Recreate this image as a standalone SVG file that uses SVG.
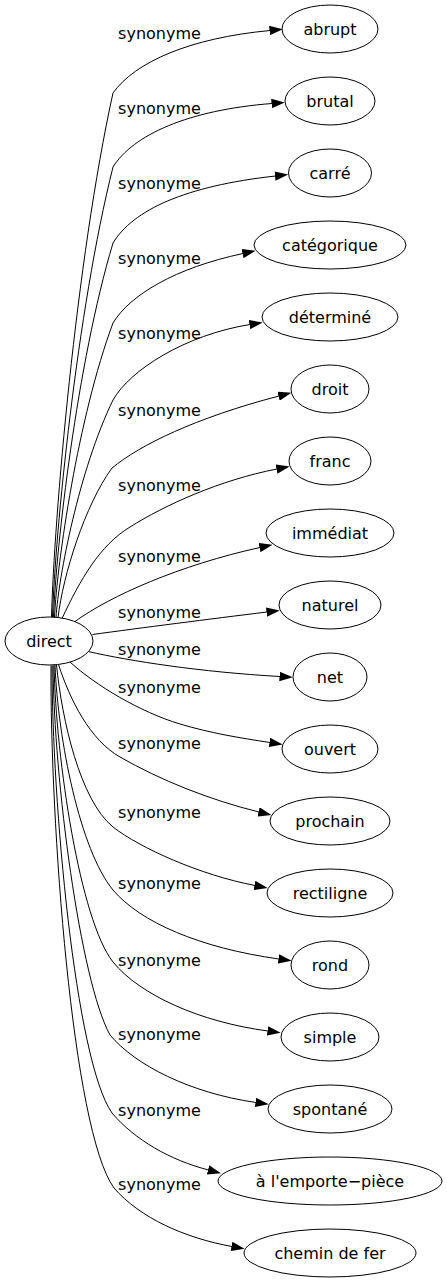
<svg xmlns="http://www.w3.org/2000/svg" width="447" height="1283" viewBox="0 0 447 1283">
<style>
.bg{fill:#ffffff}
.node ellipse{fill:none;stroke:#000;stroke-width:1}
.node text{font-family:"DejaVu Sans",Verdana,sans-serif;font-size:16px;fill:#000;text-anchor:middle}
.edges path{fill:none;stroke:#000;stroke-width:1}
.lbl{font-family:"DejaVu Sans",Verdana,sans-serif;font-size:16px;fill:#000;text-anchor:middle}
</style>
<defs>
<marker id="arr" viewBox="0 0 13.3 9.4" refX="0.5" refY="4.7" markerWidth="13.3" markerHeight="9.4" markerUnits="userSpaceOnUse" orient="auto">
<path d="M0,0 L13.3,4.7 L0,9.4 Z" fill="#000" stroke="none"/>
</marker>
</defs>
<rect class="bg" x="0" y="0" width="447" height="1283"/>
<g id="connectors" class="edges">
<path marker-end="url(#arr)" d="M51.5,617 C54,520 76,261 113,93 C135,62 190,38 270,30.5"/>
<path marker-end="url(#arr)" d="M52.5,617 C55,534 77,311 113,167 C133,135 188,110 272,103.5"/>
<path marker-end="url(#arr)" d="M53.5,617 C56,548 77,363 113,243 C133,210 185,186 275.5,176"/>
<path marker-end="url(#arr)" d="M54.5,617.3 C57,563 78,417 113,323 C130,295 175,268 243,253.5"/>
<path marker-end="url(#arr)" d="M56,617.5 C58.5,577 79,470 113,400 C130,370 185,335 250,324.5"/>
<path marker-end="url(#arr)" d="M58,617.8 C63,575 85,505 112,468 C140,445 195,418 279,396"/>
<path marker-end="url(#arr)" d="M62,618.5 C80,580 100,545 130,527 C165,505 220,480 277,469"/>
<path marker-end="url(#arr)" d="M75,621.5 C110,596 180,565 260,547.5"/>
<path marker-end="url(#arr)" d="M92.5,634.5 C140,628 210,619 267,612"/>
<path marker-end="url(#arr)" d="M88.5,651.6 C130,661 200,672 280,676.5"/>
<path marker-end="url(#arr)" d="M70,662 C95,685 140,712 180,724 C210,733 240,738 270,742.5"/>
<path marker-end="url(#arr)" d="M58.5,664.5 C70,700 90,740 120,757 C160,780 210,800 259,812"/>
<path marker-end="url(#arr)" d="M56.5,665 C62,720 80,800 113,827 C140,848 200,875 255,885.5"/>
<path marker-end="url(#arr)" d="M55,665 C58,740 80,850 113,890 C140,922 200,948 279,959"/>
<path marker-end="url(#arr)" d="M54,665 C56,760 80,920 113,962 C140,995 200,1022 268,1031"/>
<path marker-end="url(#arr)" d="M53,665.5 C54,780 80,980 110,1035 C135,1065 190,1093 256,1102.5"/>
<path marker-end="url(#arr)" d="M52,665.5 C52,800 75,1060 112,1113 C135,1140 170,1160 208.5,1170"/>
<path marker-end="url(#arr)" d="M51,665.5 C50,820 72,1130 114,1188 C140,1218 185,1238 232,1246.5"/>
</g>
<g id="edge-labels">
<text class="lbl" x="159.5" y="38.5">synonyme</text>
<text class="lbl" x="159.5" y="113.5">synonyme</text>
<text class="lbl" x="159.5" y="188.5">synonyme</text>
<text class="lbl" x="159.5" y="263.5">synonyme</text>
<text class="lbl" x="159.5" y="338.5">synonyme</text>
<text class="lbl" x="159.5" y="415.5">synonyme</text>
<text class="lbl" x="159.5" y="491">synonyme</text>
<text class="lbl" x="159.5" y="562">synonyme</text>
<text class="lbl" x="159.5" y="618">synonyme</text>
<text class="lbl" x="159.5" y="655">synonyme</text>
<text class="lbl" x="159.5" y="692.5">synonyme</text>
<text class="lbl" x="159.5" y="749">synonyme</text>
<text class="lbl" x="159.5" y="818">synonyme</text>
<text class="lbl" x="159.5" y="889">synonyme</text>
<text class="lbl" x="159.5" y="965.5">synonyme</text>
<text class="lbl" x="159.5" y="1040">synonyme</text>
<text class="lbl" x="159.5" y="1116">synonyme</text>
<text class="lbl" x="159.5" y="1190">synonyme</text>
</g>
<g id="n-direct" class="node"><ellipse cx="49" cy="641" rx="44" ry="24"/><text x="49" y="646.5">direct</text></g>
<g id="n-abrupt" class="node"><ellipse cx="330" cy="29" rx="48" ry="24"/><text x="330" y="34.5">abrupt</text></g>
<g id="n-brutal" class="node"><ellipse cx="330" cy="101" rx="45" ry="24"/><text x="330" y="106.5">brutal</text></g>
<g id="n-carre" class="node"><ellipse cx="330" cy="173" rx="41.5" ry="24"/><text x="330" y="178.5">carré</text></g>
<g id="n-categorique" class="node"><ellipse cx="330" cy="245" rx="76" ry="24"/><text x="330" y="250.5">catégorique</text></g>
<g id="n-determine" class="node"><ellipse cx="330" cy="317" rx="68" ry="24"/><text x="330" y="322.5">déterminé</text></g>
<g id="n-droit" class="node"><ellipse cx="330" cy="389" rx="39" ry="24"/><text x="330" y="394.5">droit</text></g>
<g id="n-franc" class="node"><ellipse cx="330" cy="461" rx="41" ry="24"/><text x="330" y="466.5">franc</text></g>
<g id="n-immediat" class="node"><ellipse cx="330" cy="533" rx="64" ry="24"/><text x="330" y="538.5">immédiat</text></g>
<g id="n-naturel" class="node"><ellipse cx="330" cy="605" rx="51" ry="24"/><text x="330" y="610.5">naturel</text></g>
<g id="n-net" class="node"><ellipse cx="330" cy="677" rx="37" ry="24"/><text x="330" y="682.5">net</text></g>
<g id="n-ouvert" class="node"><ellipse cx="330" cy="749" rx="48" ry="24"/><text x="330" y="754.5">ouvert</text></g>
<g id="n-prochain" class="node"><ellipse cx="330" cy="821" rx="60" ry="24"/><text x="330" y="826.5">prochain</text></g>
<g id="n-rectiligne" class="node"><ellipse cx="330" cy="893" rx="63" ry="24"/><text x="330" y="898.5">rectiligne</text></g>
<g id="n-rond" class="node"><ellipse cx="330" cy="965" rx="39" ry="24"/><text x="330" y="970.5">rond</text></g>
<g id="n-simple" class="node"><ellipse cx="330" cy="1037" rx="49" ry="24"/><text x="330" y="1042.5">simple</text></g>
<g id="n-spontane" class="node"><ellipse cx="330" cy="1109" rx="62" ry="24"/><text x="330" y="1114.5">spontané</text></g>
<g id="n-emporte-piece" class="node"><ellipse cx="330" cy="1181" rx="112" ry="24"/><text x="330" y="1186.5">à l'emporte−pièce</text></g>
<g id="n-chemin-de-fer" class="node"><ellipse cx="330" cy="1253" rx="86" ry="24"/><text x="330" y="1258.5">chemin de fer</text></g>
</svg>
